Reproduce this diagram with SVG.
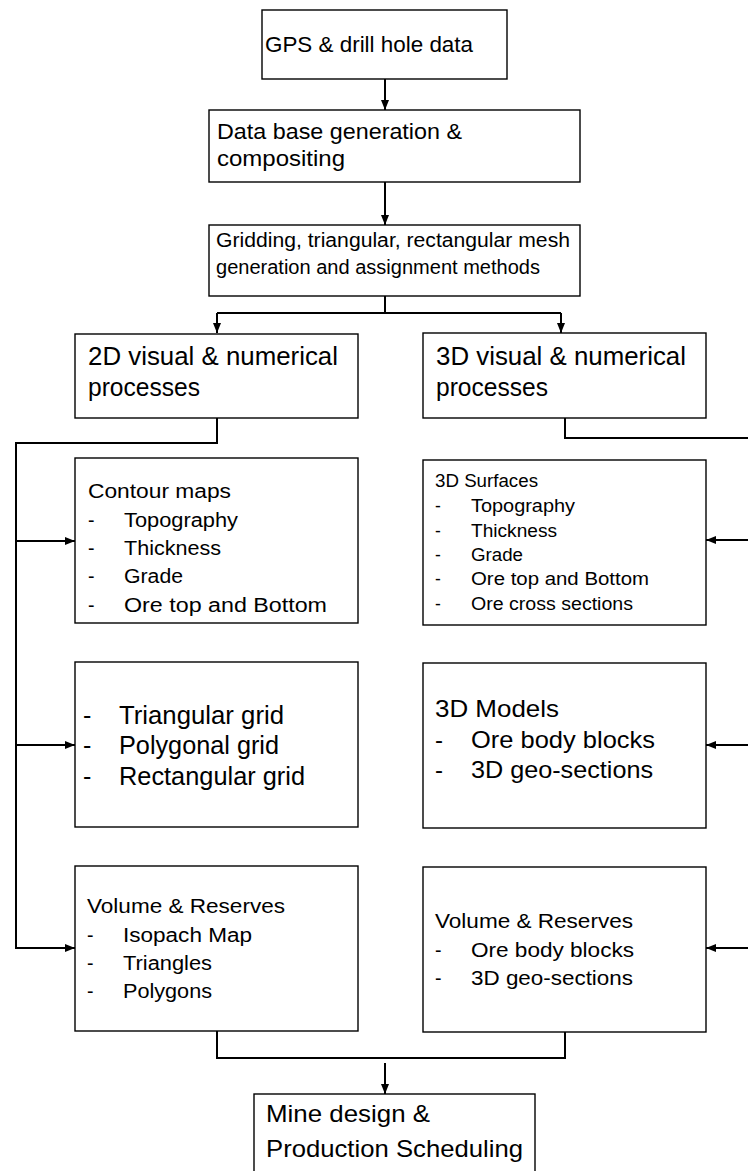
<svg xmlns="http://www.w3.org/2000/svg" width="748" height="1171" viewBox="0 0 748 1171">
<style>
.box{fill:#fff;stroke:#000;stroke-width:1.4}
.t{font-family:"Liberation Sans",Arial,sans-serif;fill:#000}
.c{fill:none;stroke:#000;stroke-width:2}
</style>
<defs>
<marker id="ah" markerUnits="userSpaceOnUse" markerWidth="10" markerHeight="10" viewBox="0 0 10 10" refX="10" refY="5" orient="auto">
<path d="M0,1 L10,5 L0,9 Z" fill="#000"/>
</marker>
</defs>
<rect width="748" height="1171" fill="#fff"/>
<g id="connectors">
<path class="c" d="M385,79 V110" marker-end="url(#ah)"/>
<path class="c" d="M385,182 V225" marker-end="url(#ah)"/>
<path class="c" d="M385,296 V313"/>
<path class="c" d="M217,313 H561"/>
<path class="c" d="M217,313 V333" marker-end="url(#ah)"/>
<path class="c" d="M561,313 V333" marker-end="url(#ah)"/>
<path class="c" d="M217,418 V443 H16 V948 H75" marker-end="url(#ah)"/>
<path class="c" d="M16,541 H75" marker-end="url(#ah)"/>
<path class="c" d="M16,745 H75" marker-end="url(#ah)"/>
<path class="c" d="M565,418 V438 H752 V948"/>
<path class="c" d="M752,540 H706" marker-end="url(#ah)"/>
<path class="c" d="M752,745 H706" marker-end="url(#ah)"/>
<path class="c" d="M752,948 H706" marker-end="url(#ah)"/>
<path class="c" d="M217,1031 V1058 H565 V1032"/>
<path class="c" d="M385,1063 V1094" marker-end="url(#ah)"/>
</g>
<g id="gps">
<rect class="box" x="262" y="10" width="245" height="69"/>
<text class="t" x="265" y="52" font-size="22.5" textLength="208" lengthAdjust="spacingAndGlyphs">GPS &amp; drill hole data</text>
</g>
<g id="database">
<rect class="box" x="209" y="110" width="371" height="72"/>
<text class="t" x="217" y="139" font-size="22" textLength="245" lengthAdjust="spacingAndGlyphs">Data base generation &amp;</text>
<text class="t" x="217" y="166" font-size="22" textLength="128" lengthAdjust="spacingAndGlyphs">compositing</text>
</g>
<g id="gridding">
<rect class="box" x="209" y="225" width="371" height="71"/>
<text class="t" x="216" y="247" font-size="19.5" textLength="354" lengthAdjust="spacingAndGlyphs">Gridding, triangular, rectangular mesh</text>
<text class="t" x="216" y="274" font-size="19.5" textLength="324" lengthAdjust="spacingAndGlyphs">generation and assignment methods</text>
</g>
<g id="proc2d">
<rect class="box" x="75" y="334" width="283" height="84"/>
<text class="t" x="88" y="365" font-size="25" textLength="250" lengthAdjust="spacingAndGlyphs">2D visual &amp; numerical</text>
<text class="t" x="88" y="396" font-size="25" textLength="112" lengthAdjust="spacingAndGlyphs">processes</text>
</g>
<g id="proc3d">
<rect class="box" x="423" y="333" width="283" height="85"/>
<text class="t" x="436" y="365" font-size="25" textLength="250" lengthAdjust="spacingAndGlyphs">3D visual &amp; numerical</text>
<text class="t" x="436" y="396" font-size="25" textLength="112" lengthAdjust="spacingAndGlyphs">processes</text>
</g>
<g id="contour">
<rect class="box" x="75" y="458" width="283" height="165"/>
<g class="t" font-size="19.5">
<text x="88" y="498" textLength="143" lengthAdjust="spacingAndGlyphs">Contour maps</text>
<text x="88" y="527">-</text><text x="124" y="527" textLength="114" lengthAdjust="spacingAndGlyphs">Topography</text>
<text x="88" y="555">-</text><text x="124" y="555" textLength="97" lengthAdjust="spacingAndGlyphs">Thickness</text>
<text x="88" y="583">-</text><text x="124" y="583" textLength="59" lengthAdjust="spacingAndGlyphs">Grade</text>
<text x="88" y="612">-</text><text x="124" y="612" textLength="203" lengthAdjust="spacingAndGlyphs">Ore top and Bottom</text>
</g>
</g>
<g id="surfaces">
<rect class="box" x="423" y="460" width="283" height="165"/>
<g class="t" font-size="17.5">
<text x="435" y="487" textLength="103" lengthAdjust="spacingAndGlyphs">3D Surfaces</text>
<text x="435" y="512">-</text><text x="471" y="512" textLength="104" lengthAdjust="spacingAndGlyphs">Topography</text>
<text x="435" y="537">-</text><text x="471" y="537" textLength="86" lengthAdjust="spacingAndGlyphs">Thickness</text>
<text x="435" y="561">-</text><text x="471" y="561" textLength="52" lengthAdjust="spacingAndGlyphs">Grade</text>
<text x="435" y="585">-</text><text x="471" y="585" textLength="178" lengthAdjust="spacingAndGlyphs">Ore top and Bottom</text>
<text x="435" y="610">-</text><text x="471" y="610" textLength="162" lengthAdjust="spacingAndGlyphs">Ore cross sections</text>
</g>
</g>
<g id="grids">
<rect class="box" x="75" y="662" width="283" height="165"/>
<g class="t" font-size="25">
<text x="83" y="724">-</text><text x="119" y="724" textLength="165" lengthAdjust="spacingAndGlyphs">Triangular grid</text>
<text x="83" y="754">-</text><text x="119" y="754" textLength="160" lengthAdjust="spacingAndGlyphs">Polygonal grid</text>
<text x="83" y="785">-</text><text x="119" y="785" textLength="186" lengthAdjust="spacingAndGlyphs">Rectangular grid</text>
</g>
</g>
<g id="models">
<rect class="box" x="423" y="663" width="283" height="165"/>
<g class="t" font-size="24">
<text x="435" y="717" textLength="124" lengthAdjust="spacingAndGlyphs">3D Models</text>
<text x="435" y="748">-</text><text x="471" y="748" textLength="184" lengthAdjust="spacingAndGlyphs">Ore body blocks</text>
<text x="435" y="778">-</text><text x="471" y="778" textLength="182" lengthAdjust="spacingAndGlyphs">3D geo-sections</text>
</g>
</g>
<g id="volume2d">
<rect class="box" x="75" y="866" width="283" height="165"/>
<g class="t" font-size="19.5">
<text x="87" y="913" textLength="198" lengthAdjust="spacingAndGlyphs">Volume &amp; Reserves</text>
<text x="87" y="942">-</text><text x="123" y="942" textLength="129" lengthAdjust="spacingAndGlyphs">Isopach Map</text>
<text x="87" y="970">-</text><text x="123" y="970" textLength="89" lengthAdjust="spacingAndGlyphs">Triangles</text>
<text x="87" y="998">-</text><text x="123" y="998" textLength="89" lengthAdjust="spacingAndGlyphs">Polygons</text>
</g>
</g>
<g id="volume3d">
<rect class="box" x="423" y="867" width="283" height="165"/>
<g class="t" font-size="19.5">
<text x="435" y="928" textLength="198" lengthAdjust="spacingAndGlyphs">Volume &amp; Reserves</text>
<text x="435" y="957">-</text><text x="471" y="957" textLength="163" lengthAdjust="spacingAndGlyphs">Ore body blocks</text>
<text x="435" y="985">-</text><text x="471" y="985" textLength="162" lengthAdjust="spacingAndGlyphs">3D geo-sections</text>
</g>
</g>
<g id="mine">
<rect class="box" x="254" y="1094" width="281" height="90"/>
<text class="t" x="266" y="1122" font-size="24.5" textLength="164" lengthAdjust="spacingAndGlyphs">Mine design &amp;</text>
<text class="t" x="266" y="1157" font-size="24.5" textLength="257" lengthAdjust="spacingAndGlyphs">Production Scheduling</text>
</g>
</svg>
